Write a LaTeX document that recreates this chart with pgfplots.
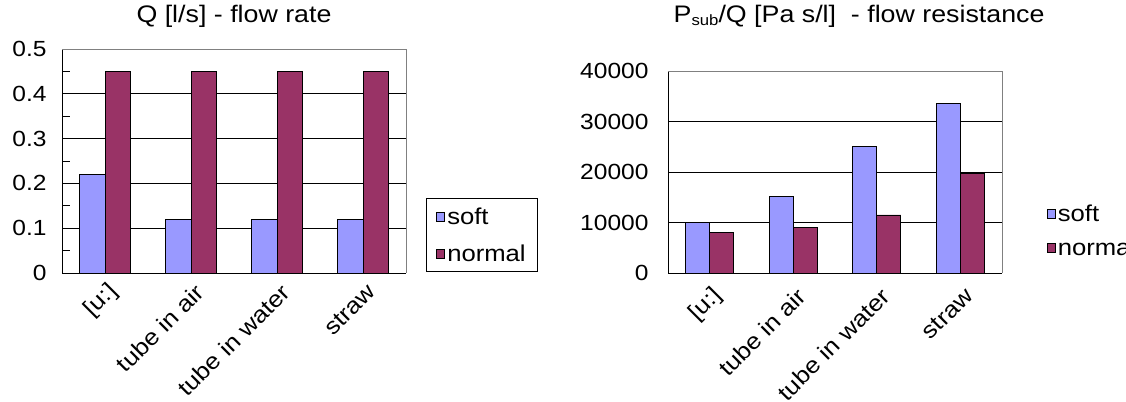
\documentclass[border=0pt]{standalone}
\usepackage{fontspec}
\setmainfont{Liberation Sans}[FakeStretch=1.12]
\usepackage{pgfplots}
\pgfplotsset{compat=1.18}
\definecolor{soft}{HTML}{9999FF}
\definecolor{normal}{HTML}{993366}
\pgfplotstableread{
x soft normal
0 0.22 0.45
1 0.12 0.45
2 0.12 0.45
3 0.12 0.45
}\flowrate
\pgfplotstableread{
x soft normal
0 10000 8000
1 15100 9100
2 25100 11500
3 33500 19700
}\resistance
\pgfplotsset{
  common/.style={
    scale only axis,
    xmin=-0.5, xmax=3.5,
    xtick={0,1,2,3},
    xticklabels={{[u:]},{tube in air},{tube in water},{straw}},
    x tick style={draw=none},
    axis x line*=bottom, axis y line*=left,
    axis line style={black, line width=1bp},
    ymajorgrids, major grid style={black, line width=1bp},
    ymin=0,
    ybar=0pt,
    /pgf/number format/assume math mode=true,
    yticklabel style={font=\fontsize{22}{26}\selectfont},
    xticklabel style={font=\fontsize{23}{26}\selectfont, xshift=9bp, yshift=-15bp, rotate=45, anchor=east, inner sep=0pt},
    legend cell align=left,
    legend image code/.code={\draw[#1, line width=0.8bp] (0bp,-4.5bp) rectangle (8bp,4.5bp);},
    title style={font=\fontsize{24}{28}\selectfont, anchor=base},
    clip=false,
  },
}
\begin{document}
\begin{tikzpicture}[x=1bp,y=1bp]
\useasboundingbox (0,0) rectangle (1126,401);
\begin{axis}[common,
  at={(62bp,128bp)}, anchor=south west,
  width=344bp, height=224bp,
  ymax=0.5,
  ytick={0,0.1,0.2,0.3,0.4,0.5},
  minor ytick={0.05,0.15,0.25,0.35,0.45},
  yticklabels={0,0.1,0.2,0.3,0.4,0.5},
  tick align=inside,
  major tick length=8bp, minor tick length=8bp,
  y tick style={black, line width=1bp},
  yticklabel style={xshift=-12bp},
  bar width=25.3bp,
  title={Q [l/s] - flow rate},
  title style={at={(0.5,1)}, yshift=21bp},
  legend style={at={(1.058,0.003)}, anchor=south west, draw=black, line width=1bp,
    font=\fontsize{23}{26}\selectfont, inner xsep=10bp, inner ysep=7bp,
    row sep=15bp},
]
\addplot[fill=soft, draw=black, line width=0.8bp] table[x=x, y=soft] {\flowrate};
\addplot[fill=normal, draw=black, line width=0.8bp] table[x=x, y=normal] {\flowrate};
\legend{soft,normal}
\draw[gray, line width=0.8bp] (rel axis cs:0,1) -- (rel axis cs:1,1) -- (rel axis cs:1,0);
\end{axis}
\begin{axis}[common,
  at={(668bp,128bp)}, anchor=south west,
  width=334bp, height=202bp,
  ymax=40000,
  ytick={0,10000,20000,30000,40000},
  scaled y ticks=false,
  yticklabel style={/pgf/number format/fixed, /pgf/number format/1000 sep={}, xshift=-16bp},
  y tick style={draw=none},
  bar width=24bp,
  title={P\raisebox{-0.3ex}{\fontsize{15}{15}\selectfont sub}/Q [Pa s/l]\ \ - flow resistance},
  title style={at={(0.572,1)}, yshift=43bp},
  legend style={at={(1.134,0.21)}, anchor=west, draw=none, fill=none,
    font=\fontsize{23}{26}\selectfont, inner xsep=0bp, inner ysep=0bp,
    row sep=12bp},
]
\addplot[fill=soft, draw=black, line width=0.8bp] table[x=x, y=soft] {\resistance};
\addplot[fill=normal, draw=black, line width=0.8bp] table[x=x, y=normal] {\resistance};
\legend{soft,normal}
\draw[gray, line width=0.8bp] (rel axis cs:0,1) -- (rel axis cs:1,1) -- (rel axis cs:1,0);
\end{axis}
\end{tikzpicture}
\end{document}
